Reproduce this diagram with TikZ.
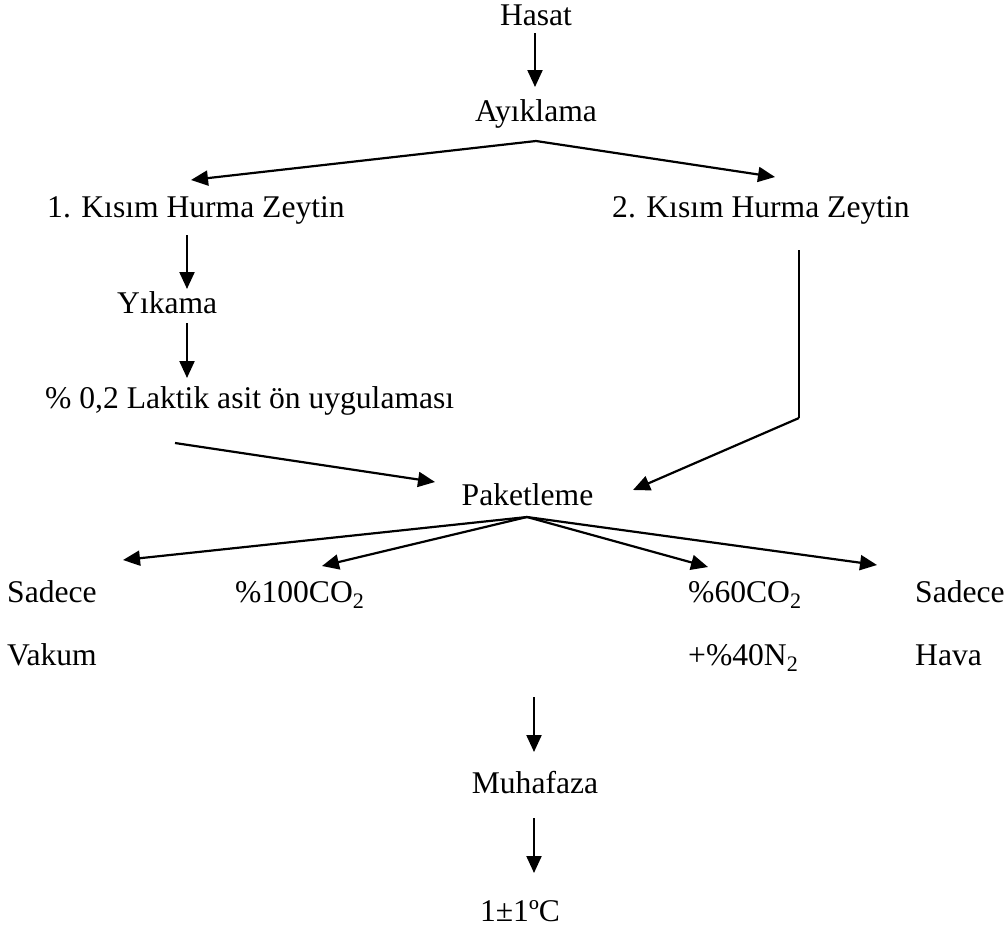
\documentclass[tikz,border=0pt]{standalone}
\usepackage{fontspec}
\setmainfont{Liberation Serif}
\usetikzlibrary{arrows.meta}
\begin{document}
\begin{tikzpicture}[x=1pt,y=-1pt,
  lbl/.style={inner sep=0pt, font=\fontsize{31.6}{38}\selectfont},
  conn/.style={line width=2.2pt},
  arr/.style={line width=2.2pt, -{Triangle[length=17pt,width=15pt]}},
  thinln/.style={line width=1.5pt}]
\useasboundingbox (0,0) rectangle (1006,932);
% nodes
\node[lbl,anchor=base] (hasat) at (536,25) {Hasat};
\node[lbl,anchor=base] (ayik) at (536,121) {Ayıklama};
\node[lbl,anchor=base west] (k1) at (47,217) {1. Kısım Hurma Zeytin};
\node[lbl,anchor=base west] (k2) at (612,217) {2. Kısım Hurma Zeytin};
\node[lbl,anchor=base west] (yik) at (117,313) {Yıkama};
\node[lbl,anchor=base west] (lak) at (45,408) {\% 0,2 Laktik asit ön uygulaması};
\node[lbl,anchor=base] (pak) at (527.5,505) {Paketleme};
\node[lbl,anchor=base west] (sv1) at (7,602) {Sadece};
\node[lbl,anchor=base west] (sv2) at (7,665) {Vakum};
\node[lbl,anchor=base west] (co100) at (235,602) {\%100CO\textsubscript{2}};
\node[lbl,anchor=base west] (co60) at (688,602) {\%60CO\textsubscript{2}};
\node[lbl,anchor=base west] (n40) at (688,665) {+\%40N\textsubscript{2}};
\node[lbl,anchor=base west] (sh1) at (915,602) {Sadece};
\node[lbl,anchor=base west] (sh2) at (915,665) {Hava};
\node[lbl,anchor=base] (muh) at (535,793) {Muhafaza};
\node[lbl,anchor=base] (temp) at (520,921) {1±1ºC};
% connector end points
\coordinate (hasatOut) at (535,33);
\coordinate (ayikIn) at (535,87);
\coordinate (ayikOut) at (536,141);
\coordinate (k1In) at (191,180);
\coordinate (k2In) at (775,177);
\coordinate (k1Out) at (187,235);
\coordinate (yikIn) at (187,289);
\coordinate (yikOut) at (187,323);
\coordinate (lakIn) at (187,378);
\coordinate (lakOut) at (175,443);
\coordinate (pakInL) at (435,482);
\coordinate (k2Out) at (799,250);
\coordinate (k2Bend) at (799,418);
\coordinate (pakInR) at (633,490);
\coordinate (pakOut) at (527,517);
\coordinate (sv1In) at (123,560);
\coordinate (co100In) at (322,566);
\coordinate (co60In) at (708,567);
\coordinate (sh1In) at (877,565);
\coordinate (pakDown) at (534,697);
\coordinate (muhIn) at (534,752);
\coordinate (muhOut) at (534,818);
\coordinate (tempIn) at (534,873);
% connectors
\draw[arr] (hasatOut) -- (ayikIn);
\draw[arr] (ayikOut) -- (k1In);
\draw[arr] (ayikOut) -- (k2In);
\draw[arr] (k1Out) -- (yikIn);
\draw[arr] (yikOut) -- (lakIn);
\draw[arr] (lakOut) -- (pakInL);
\draw[thinln] (k2Out) -- (k2Bend);
\draw[arr] (k2Bend) -- (pakInR);
\draw[arr] (pakOut) -- (sv1In);
\draw[arr] (pakOut) -- (co100In);
\draw[arr] (pakOut) -- (co60In);
\draw[arr] (pakOut) -- (sh1In);
\draw[arr] (pakDown) -- (muhIn);
\draw[arr] (muhOut) -- (tempIn);
\end{tikzpicture}
\end{document}
